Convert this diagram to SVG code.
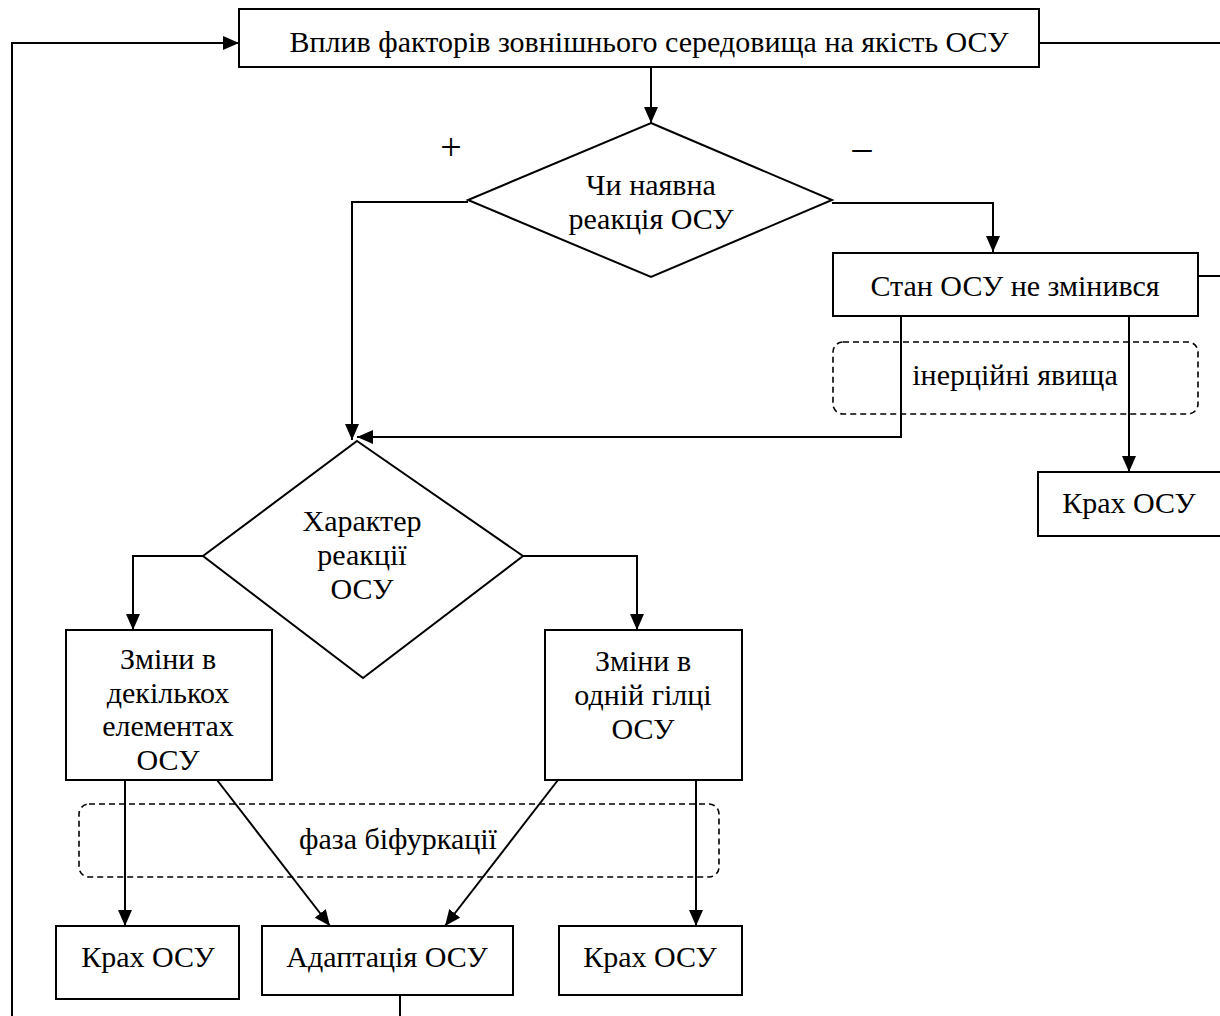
<svg xmlns="http://www.w3.org/2000/svg" width="1220" height="1016" viewBox="0 0 1220 1016" font-family="'Liberation Serif', 'Times New Roman', serif">
<style>
.box{fill:#fff;stroke:#000;stroke-width:2}
.dash{fill:none;stroke:#000;stroke-width:1.6;stroke-dasharray:6 4}
.ln{fill:none;stroke:#000;stroke-width:2}
text{font-family:"Liberation Serif","Times New Roman",serif;font-size:30px;fill:#000;text-anchor:middle}
.sign{font-size:38px}
</style>
<defs>
<marker id="ah" viewBox="0 0 16 14" refX="16" refY="7" markerWidth="16" markerHeight="14" markerUnits="userSpaceOnUse" orient="auto">
<path d="M0,0 L16,7 L0,14 Z" fill="#000"/>
</marker>
</defs>
<rect width="1220" height="1016" fill="#fff"/>
<g id="connectors">
<path class="ln" d="M400,995 V1016"/>
<path class="ln" d="M12,1016 V43 H239" marker-end="url(#ah)"/>
<path class="ln" d="M1039,43 H1220"/>
<path class="ln" d="M1198,276 H1220"/>
<path class="ln" d="M651,67 V123" marker-end="url(#ah)"/>
<path class="ln" d="M468,202 H352 V440" marker-end="url(#ah)"/>
<path class="ln" d="M832,203 H993 V252" marker-end="url(#ah)"/>
<path class="ln" d="M901,316 V437 H357" marker-end="url(#ah)"/>
<path class="ln" d="M1129,316 V472" marker-end="url(#ah)"/>
<path class="ln" d="M203,556 H133 V630" marker-end="url(#ah)"/>
<path class="ln" d="M523,556 H637 V630" marker-end="url(#ah)"/>
<path class="ln" d="M125,780 V926" marker-end="url(#ah)"/>
<path class="ln" d="M217,780 L330,926" marker-end="url(#ah)"/>
<path class="ln" d="M558,780 L445,926" marker-end="url(#ah)"/>
<path class="ln" d="M696,780 V926" marker-end="url(#ah)"/>
</g>
<g id="n-top"><rect class="box" x="239" y="9" width="800" height="58"/><text x="649" y="52">Вплив факторів зовнішнього середовища на якість ОСУ</text></g>
<g id="n-d1"><polygon class="box" points="651,123 832,200 651,277 468,200"/><text x="651" y="195">Чи наявна</text><text x="651" y="229">реакція ОСУ</text></g>
<g id="lbl-plus"><text class="sign" x="451" y="160">+</text></g>
<g id="lbl-minus"><text class="sign" x="862" y="160">–</text></g>
<g id="n-state"><rect class="box" x="833" y="253" width="365" height="63"/><text x="1015" y="296">Стан ОСУ не змінився</text></g>
<g id="n-inert"><rect class="dash" x="833" y="342" width="365" height="72" rx="10"/><text x="1015" y="385">інерційні явища</text></g>
<g id="n-crash-r"><rect class="box" x="1038" y="472" width="190" height="64"/><text x="1129" y="513">Крах ОСУ</text></g>
<g id="n-d2"><polygon class="box" points="357,441 523,556 363,678 203,556"/><text x="362" y="531">Характер</text><text x="362" y="565">реакції</text><text x="362" y="599">ОСУ</text></g>
<g id="n-many"><rect class="box" x="66" y="630" width="206" height="150"/><text x="168" y="669">Зміни в</text><text x="168" y="703">декількох</text><text x="168" y="736">елементах</text><text x="168" y="770">ОСУ</text></g>
<g id="n-one"><rect class="box" x="545" y="630" width="197" height="150"/><text x="643" y="671">Зміни в</text><text x="643" y="705">одній гілці</text><text x="643" y="739">ОСУ</text></g>
<g id="n-bif"><rect class="dash" x="79" y="804" width="640" height="73" rx="10"/><text x="398" y="849">фаза біфуркації</text></g>
<g id="n-crash-l"><rect class="box" x="56" y="926" width="183" height="73"/><text x="148" y="967">Крах ОСУ</text></g>
<g id="n-adapt"><rect class="box" x="262" y="926" width="251" height="69"/><text x="387" y="967">Адаптація ОСУ</text></g>
<g id="n-crash-m"><rect class="box" x="559" y="926" width="183" height="69"/><text x="650" y="967">Крах ОСУ</text></g>
</svg>
